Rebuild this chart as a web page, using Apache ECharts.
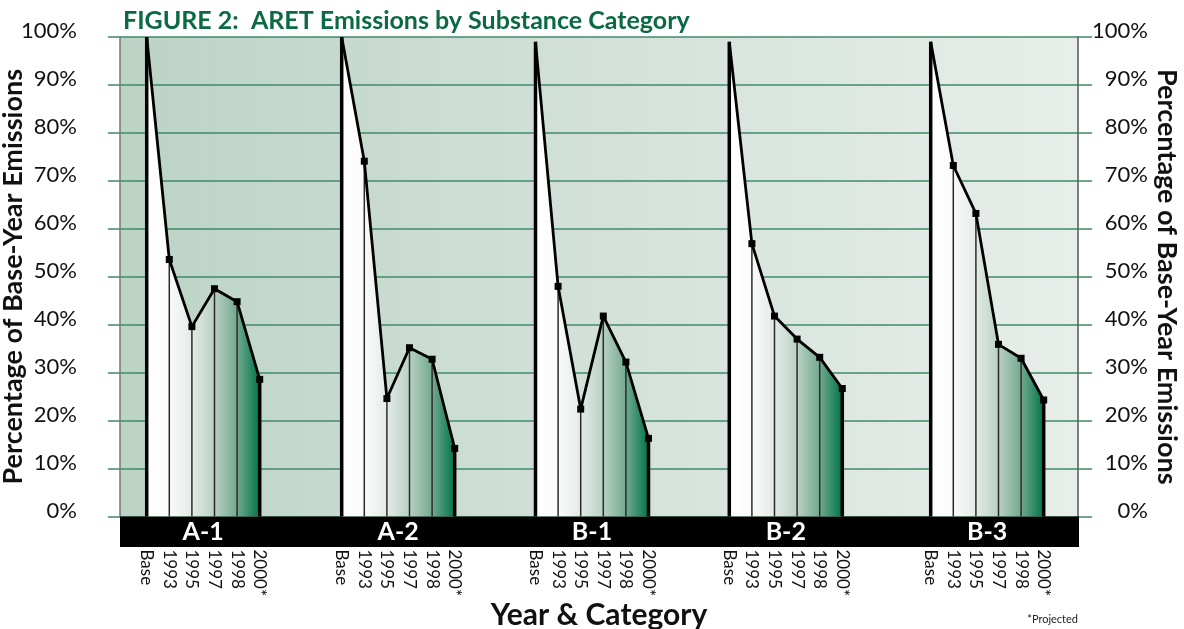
<!DOCTYPE html>
<html>
<head>
<meta charset="utf-8">
<script src="https://cdn.jsdelivr.net/npm/echarts@6/dist/echarts.min.js"></script>
<style>
html,body{margin:0;padding:0;background:#fff;}
#chart{width:1184px;height:629px;}
</style>
</head>
<body>
<div id="chart"></div>
<script>
// ---- data ----
const groups = ['A-1', 'A-2', 'B-1', 'B-2', 'B-3'];
const years = ['Base', '1993', '1995', '1997', '1998', '2000*'];
const A1 = [100, 53.6, 39.6, 47.5, 44.8, 28.6];
const A2 = [100, 74.1, 24.6, 35.2, 32.8, 14.2];
const B1 = [99, 48.0, 22.4, 41.8, 32.2, 16.3];
const B2 = [99, 56.9, 41.8, 37.0, 33.2, 26.7];
const B3 = [99, 73.2, 63.2, 35.9, 33.0, 24.3];
const seriesValues = [A1, A2, B1, B2, B3];

// ---- layout ----
const FONT = 'Lato';
const plotLeft = 120, plotRight = 1078, plotTop = 37, plotBottom = 516.5;
const H = 629, W = 1184;
const groupLeft = [146.7, 341.7, 535.5, 729.3, 930.7];
const groupWidth = 113;

const chart = echarts.init(document.getElementById('chart'), null, {renderer: 'canvas'});

const grids = [{
  left: plotLeft, right: W - plotRight, top: plotTop, bottom: H - plotBottom,
  outerBoundsMode: 'none', containLabel: false,
  show: true, borderWidth: 0,
  backgroundColor: new echarts.graphic.LinearGradient(0, 0, 1, 0, [
    {offset: 0, color: '#bcd3c6'},
    {offset: 0.5, color: '#d3e1d9'},
    {offset: 1, color: '#e8eeea'}
  ])
}];
const xAxes = [{
  type: 'value', gridIndex: 0, min: 0, max: 1, position: 'bottom',
  axisLine: {show: false}, axisTick: {show: false}, axisLabel: {show: false}, splitLine: {show: false},
  name: 'Year & Category', nameLocation: 'middle', nameGap: 84, nameMoveOverlap: false,
  nameTextStyle: {fontFamily: FONT, fontWeight: 'bold', fontSize: 30, color: '#111'}
}];
const gridLine = {color: '#3f8b6a', width: 1.5};
const yLabel = {fontFamily: FONT, fontSize: 22, color: '#111', formatter: '{value}%', verticalAlign: 'bottom', lineHeight: 12};
const yName = {fontFamily: FONT, fontWeight: 'bold', fontSize: 27, color: '#111'};
const yAxes = [
  {
    type: 'value', gridIndex: 0, position: 'left', min: 0, max: 100, interval: 10,
    axisLine: {show: true, lineStyle: {color: '#777', width: 1.5}},
    axisTick: {show: true, length: 12, lineStyle: gridLine},
    splitLine: {show: true, lineStyle: gridLine},
    axisLabel: Object.assign({margin: 43, align: 'right'}, yLabel),
    name: 'Percentage of Base-Year Emissions', nameLocation: 'middle', nameGap: 93, nameMoveOverlap: false,
    nameTextStyle: yName
  },
  {
    type: 'value', gridIndex: 0, position: 'right', min: 0, max: 100, interval: 10,
    axisLine: {show: true, lineStyle: {color: '#555', width: 1.5}},
    axisTick: {show: true, length: 14, lineStyle: gridLine},
    splitLine: {show: false},
    axisLabel: Object.assign({margin: 70, align: 'right'}, yLabel),
    name: 'Percentage of Base-Year Emissions', nameLocation: 'middle', nameGap: 75, nameRotate: -90, nameMoveOverlap: false,
    nameTextStyle: yName
  }
];
const series = [];

const areaGradient = () => new echarts.graphic.LinearGradient(0, 0, 1, 0, [
  {offset: 0, color: '#ffffff'},
  {offset: 0.2, color: '#fafbfa'},
  {offset: 0.4, color: '#e3ebe7'},
  {offset: 0.6, color: '#b9d1c4'},
  {offset: 0.8, color: '#72a98f'},
  {offset: 1, color: '#00744b'}
]);

groups.forEach((g, gi) => {
  const gridIndex = gi + 1;
  grids.push({left: groupLeft[gi], width: groupWidth, top: plotTop, bottom: H - plotBottom, show: false,
    outerBoundsMode: 'none', containLabel: false});
  const xYear = xAxes.length;
  xAxes.push({
    type: 'category', gridIndex, data: years, boundaryGap: false, position: 'bottom',
    axisLine: {show: false}, axisTick: {show: false}, splitLine: {show: false},
    axisLabel: {interval: 0, rotate: -90, margin: 33, fontFamily: FONT, fontSize: 17, color: '#111'}
  });
  xAxes.push({
    type: 'category', gridIndex, data: [g], boundaryGap: true, z: 10, position: 'bottom', offset: 0,
    axisLine: {show: false}, axisTick: {show: false}, splitLine: {show: false},
    axisLabel: {margin: 15, verticalAlign: 'middle', fontFamily: FONT, fontWeight: 'bold', fontSize: 25, color: '#fff'}
  });
  const yIdx = yAxes.length;
  yAxes.push({type: 'value', gridIndex, min: 0, max: 100, show: false});

  const vals = seriesValues[gi];
  series.push({
    type: 'line', xAxisIndex: xYear, yAxisIndex: yIdx, data: vals, z: 2,
    symbol: 'none', lineStyle: {width: 0, opacity: 0},
    areaStyle: {color: areaGradient(), opacity: 1}
  });
  series.push({
    type: 'custom', xAxisIndex: xYear, yAxisIndex: yIdx, z: 3,
    data: vals.map((v, i) => [i, v]),
    renderItem: (params, api) => {
      const i = api.value(0), v = api.value(1);
      const top = api.coord([i, v]);
      const bot = api.coord([i, 0]);
      const thick = (i === 0 || i === years.length - 1);
      return {
        type: 'line',
        shape: {x1: top[0], y1: top[1], x2: bot[0], y2: bot[1]},
        style: {stroke: thick ? '#000' : '#2b2b2b', lineWidth: thick ? 3.5 : 1.5}
      };
    }
  });
  series.push({
    type: 'line', xAxisIndex: xYear, yAxisIndex: yIdx, data: vals, z: 4,
    symbol: 'rect', symbolSize: (v, p) => p.dataIndex === 0 ? 0 : 7,
    lineStyle: {color: '#000', width: 2.8}, itemStyle: {color: '#000'}
  });
});

chart.setOption({
  animation: false,
  title: {
    text: 'FIGURE 2:  ARET Emissions by Substance Category',
    left: 118, top: 3,
    textStyle: {fontFamily: FONT, fontWeight: 'bold', fontSize: 25, color: '#0b6a43'}
  },
  grid: grids,
  xAxis: xAxes,
  yAxis: yAxes,
  series: series,
  graphic: [
    {type: 'rect', z: 1, shape: {x: plotLeft, y: plotBottom, width: plotRight - plotLeft + 1, height: 30.5}, style: {fill: '#000'}},
    {type: 'text', z: 1, style: {text: '*Projected', x: 1078, y: 619, align: 'right', verticalAlign: 'middle', font: '11px Lato', fill: '#222'}}
  ]
});
</script>
</body>
</html>
